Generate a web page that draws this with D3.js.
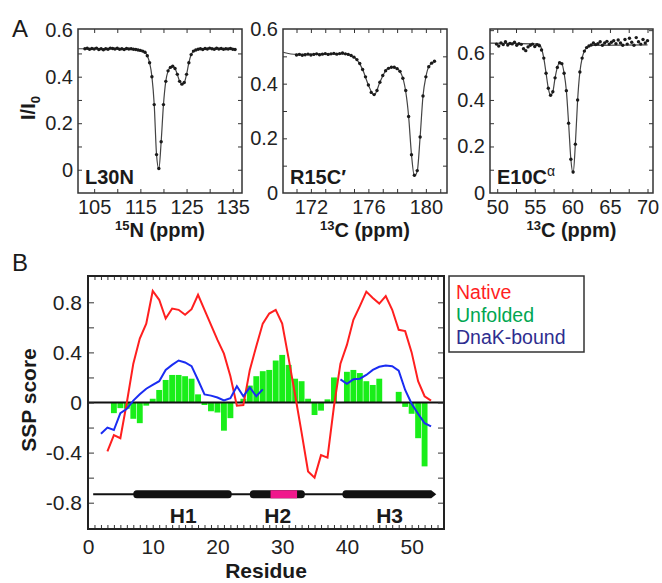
<!DOCTYPE html>
<html><head><meta charset="utf-8">
<script src="https://cdn.jsdelivr.net/npm/d3@7"></script>
<style>body{margin:0;background:#fff}svg{display:block}</style>
</head><body><svg id="c" width="662" height="583"></svg>
<script>
// ---------- Panel A data (CEST profiles) ----------
const p1X=[103,103.5,104,104.5,105,105.5,106,106.5,107,107.5,108,108.5,109,109.5,110,110.5,111,111.5,112,112.5,113,113.5,114,114.5,115,115.5,116,116.5,117,117.5,118,118.5,119,119.5,120,120.5,121,121.5,122,122.5,123,123.5,124,124.5,125,125.5,126,126.5,127,127.5,128,128.5,129,129.5,130,130.5,131,131.5,132,132.5,133,133.5,134,134.5,135,135.5];
const p1Y=[.520,.522,.518,.521,.519,.523,.517,.520,.516,.520,.518,.523,.521,.519,.522,.518,.520,.517,.521,.519,.520,.518,.517,.515,.513,.510,.505,.490,.460,.400,.280,.065,.005,.120,.280,.380,.425,.440,.445,.435,.410,.380,.368,.375,.410,.460,.495,.510,.515,.518,.520,.517,.521,.519,.523,.520,.518,.522,.519,.521,.518,.520,.519,.521,.518,.517];
const f1X=[101.5,114,115,116,116.5,117,117.5,118,118.5,119,119.5,120,120.5,121,121.5,122,122.5,123,123.5,124,124.5,125,125.5,126,126.5,127,128,135.5];
const f1Y=[.52,.519,.513,.505,.49,.46,.40,.28,.065,.003,.12,.28,.38,.425,.44,.445,.435,.41,.38,.368,.375,.41,.46,.495,.51,.515,.52,.52];

const p2X=[171.0,171.2,171.4,171.6,171.8,172.0,172.2,172.4,172.6,172.8,173.0,173.2,173.4,173.6,173.8,174.0,174.2,174.4,174.6,174.8,175.0,175.2,175.4,175.6,175.8,176.0,176.2,176.4,176.6,176.8,177.0,177.2,177.4,177.6,177.8,178.0,178.2,178.4,178.6,178.8,179.0,179.2,179.4,179.6,179.8,180.0,180.2,180.4,180.6];
const p2Y=[.505,.507,.504,.506,.508,.505,.507,.509,.506,.508,.510,.507,.509,.511,.508,.510,.512,.509,.507,.503,.497,.488,.474,.452,.425,.395,.368,.360,.375,.405,.430,.447,.456,.460,.460,.455,.445,.420,.375,.280,.140,.065,.082,.205,.355,.425,.462,.475,.482];
const f2X=[170.06,171,174.4,174.8,175.2,175.6,176,176.4,176.8,177.2,177.6,178,178.4,178.8,179,179.2,179.4,179.6,179.8,180,180.2,180.6];
const f2Y=[.515,.507,.509,.503,.488,.452,.395,.358,.405,.447,.46,.455,.42,.28,.14,.062,.08,.205,.355,.425,.462,.482];

const p3X=[49.9,50.2,50.5,50.8,51.1,51.4,51.7,52.0,52.3,52.6,52.9,53.2,53.5,53.8,54.1,54.4,54.7,55.0,55.3,55.6,55.9,56.2,56.5,56.8,57.1,57.4,57.7,58.0,58.3,58.6,58.9,59.2,59.5,59.8,60.1,60.4,60.7,61.0,61.3,61.6,61.9,62.2,62.5,62.8,63.1,63.4,63.7,64.0,64.3,64.6,64.9,65.2,65.5,65.8,66.1,66.4,66.7,67.0,67.3,67.6,67.9,68.2,68.5,68.8,69.1,69.4,69.7,70.0];
const p3Y=[.640,.632,.645,.638,.650,.636,.643,.641,.648,.635,.642,.639,.620,.612,.628,.635,.640,.630,.638,.633,.615,.580,.515,.450,.420,.435,.495,.540,.560,.556,.515,.440,.300,.145,.090,.210,.400,.520,.580,.610,.625,.632,.636,.645,.638,.642,.650,.635,.645,.652,.640,.648,.655,.642,.658,.645,.635,.660,.640,.665,.648,.635,.668,.650,.640,.660,.645,.655];
const f3X=[49.04,55.6,55.9,56.2,56.5,56.8,57.1,57.4,57.7,58.0,58.3,58.6,58.9,59.2,59.5,59.8,60.1,60.4,60.7,61.0,61.3,61.6,61.9,62.5,70.0];
const f3Y=[.644,.64,.62,.58,.515,.45,.42,.435,.495,.54,.56,.556,.515,.44,.30,.145,.085,.21,.40,.52,.58,.61,.625,.635,.637];

// tick labels
const a1XLab=[105,115,125,135], a1XMinor=[105,110,115,120,125,130,135];
const a2XLab=[172,176,180], a2XMinor=[171,172,173,174,175,176,177,178,179,180,181];
const a3XLab=[50,55,60,65,70], a3XMinor=[50,52.5,55,57.5,60,62.5,65,67.5,70];
const aYLab=[0,0.2,0.4,0.6];
const a1YMinor=[0,0.1,0.2,0.3,0.4,0.5], a2YMinor=[0.1,0.2,0.3,0.4,0.5], a3YMinor=[0.1,0.2,0.3,0.4,0.5,0.6,0.7];

// ---------- Panel B data (SSP scores) ----------
const nativeRes=[3,4,5,6,7,8,9,10,11,12,13,14,15,16,17,18,19,20,21,22,23,24,25,26,27,28,29,30,31,32,33,34,35,36,37,38,39,40,41,42,43,44,45,46,47,48,49,50,51,52,53];
const nativeSSP=[-0.39,-0.26,-0.285,0.0,0.31,0.51,0.63,0.89,0.82,0.67,0.75,0.74,0.70,0.745,0.86,0.74,0.62,0.50,0.39,0.21,-0.025,-0.02,0.26,0.45,0.63,0.71,0.74,0.63,0.35,0.06,-0.24,-0.55,-0.60,-0.42,-0.44,-0.03,0.31,0.46,0.66,0.77,0.885,0.835,0.79,0.85,0.74,0.58,0.57,0.40,0.17,0.05,0.015];
const dnakRes1=[2,3,4,5,6,7,8,9,10,11,12,13,14,15,16,17,18,19,20,21,22,23,24,25,26,27];
const dnakSSP1=[-0.25,-0.20,-0.22,-0.085,-0.05,0.015,0.065,0.11,0.14,0.17,0.26,0.30,0.335,0.32,0.29,0.18,0.065,0.055,0.04,0.016,0.035,0.13,0.05,0.12,0.05,0.105];
const dnakRes2=[39,40,41,42,43,44,45,46,47,48,49,50,51,52,53];
const dnakSSP2=[0.185,0.15,0.185,0.19,0.22,0.26,0.285,0.295,0.29,0.255,0.10,-0.01,-0.09,-0.165,-0.19];
const unfRes=[4,5,6,7,8,9,10,11,12,13,14,15,16,17,18,19,20,21,22,23,24,25,26,27,28,29,30,31,32,33,34,35,36,37,38,39,40,41,42,43,44,45,46,47,48,49,50,51,52];
const unfSSP=[-0.085,-0.045,-0.05,-0.13,-0.165,-0.025,0.03,0.10,0.18,0.22,0.22,0.21,0.19,0.065,-0.02,-0.07,-0.08,-0.225,-0.125,0,0.03,0.135,0.21,0.25,0.26,0.335,0.38,0.30,0.19,0.17,0.03,-0.10,-0.065,0.025,0.20,0,0.245,0.26,0.235,0.17,0.14,0.19,0,0,0.085,-0.035,-0.09,-0.285,-0.51];
const bXLab=[0,10,20,30,40,50];
const bXMinor=[1,2,3,4,5,6,7,8,9,10,11,12,13,14,15,16,17,18,19,20,21,22,23,24,25,26,27,28,29,30,31,32,33,34,35,36,37,38,39,40,41,42,43,44,45,46,47,48,49,50,51,52,53,54];
const bYLab=[-0.8,-0.4,0,0.4,0.8];
const bYMinor=[-0.8,-0.6,-0.4,-0.2,0,0.2,0.4,0.6,0.8];
// secondary structure (residue ranges)
const helixNames=["H1","H2","H3"];
const helixStart=[7.0,25.0,39.3];
const helixEnd=[22.2,33.5,53.8];
const helixLabelPos=[14.7,29.3,46.6];
const pinkRange=[28.2,32.3];
const topoLine=[0.8,53.5];
const topoY=-0.733;
const legendNames=["Native","Unfolded","DnaK-bound"];
const legendColors=["#ff1f1f","#00a651","#2e2d8f"];

// ---------- drawing ----------
const FONT='"Liberation Sans", Arial, Helvetica, sans-serif';
const svg=d3.select("#c");
svg.append("rect").attr("width",662).attr("height",583).attr("fill","#fff");

function styleAxis(g,fs){
  g.selectAll(".domain").remove();
  g.selectAll(".tick line").attr("stroke","#333").attr("stroke-width",1);
  g.selectAll(".tick text").attr("font-size",fs).attr("font-family",FONT).attr("fill","#222");
}
function minorTicks(g,x,y,xm,ym,l,r,t,b,len){
  const a=[];
  a.push(g.append("g").attr("transform",`translate(0,${b})`).call(d3.axisBottom(x).tickValues(xm).tickSize(-len).tickFormat("")));
  a.push(g.append("g").attr("transform",`translate(0,${t})`).call(d3.axisTop(x).tickValues(xm).tickSize(-len).tickFormat("")));
  a.push(g.append("g").attr("transform",`translate(${l},0)`).call(d3.axisLeft(y).tickValues(ym).tickSize(-len).tickFormat("")));
  a.push(g.append("g").attr("transform",`translate(${r},0)`).call(d3.axisRight(y).tickValues(ym).tickSize(-len).tickFormat("")));
  a.forEach(s=>styleAxis(s,10));
}

function spectrum(o){
  const g=svg.append("g");
  const x=d3.scaleLinear().domain(o.xd).range([o.l,o.r]);
  const y=d3.scaleLinear().domain(o.yd).range([o.b,o.t]);
  minorTicks(g,x,y,o.xMinor,o.yMinor,o.l,o.r,o.t,o.b,4);
  const xa=g.append("g").attr("transform",`translate(0,${o.b})`).call(d3.axisBottom(x).tickValues(o.xLab).tickSize(0).tickPadding(7));
  const ya=g.append("g").attr("transform",`translate(${o.l},0)`).call(d3.axisLeft(y).tickValues(aYLab).tickSize(0).tickPadding(5).tickFormat(d=>String(d)));
  styleAxis(xa,20); styleAxis(ya,20);
  g.append("rect").attr("x",o.l).attr("y",o.t).attr("width",o.r-o.l).attr("height",o.b-o.t)
    .attr("fill","none").attr("stroke","#333").attr("stroke-width",1.5);
  const line=d3.line().x(d=>x(d[0])).y(d=>y(d[1])).curve(d3.curveMonotoneX);
  g.append("path").datum(d3.zip(o.fx,o.fy)).attr("d",line).attr("fill","none").attr("stroke","#444").attr("stroke-width",1.2);
  g.selectAll("circle.pt").data(d3.zip(o.px,o.py)).join("circle").attr("class","pt")
    .attr("cx",d=>x(d[0])).attr("cy",d=>y(d[1])).attr("r",1.7).attr("fill","#1a1a1a");
  // name
  const nt=g.append("text").attr("x",o.l+7).attr("y",o.b-9).attr("font-family",FONT).attr("font-size",20).attr("font-weight","bold").attr("fill","#1a1a1a");
  nt.append("tspan").text(o.name);
  if(o.sup) nt.append("tspan").attr("dy",-8).attr("font-size",14).attr("font-weight","normal").text(o.sup);
  // x title
  const tt=g.append("text").attr("x",(o.l+o.r)/2).attr("y",237).attr("text-anchor","middle").attr("font-family",FONT).attr("font-weight","bold").attr("font-size",20).attr("fill","#1a1a1a");
  tt.append("tspan").attr("font-size",13).attr("dy",-7).text(o.iso);
  tt.append("tspan").attr("dy",7).text(o.nuc+" (ppm)");
}

spectrum({l:78,r:242,t:29,b:193,xd:[101.5,137.0],yd:[-0.1,0.605],xLab:a1XLab,xMinor:a1XMinor,yMinor:a1YMinor,
  px:p1X,py:p1Y,fx:f1X,fy:f1Y,name:"L30N",iso:"15",nuc:"N"});
spectrum({l:283,r:447,t:29,b:193,xd:[170.06,181.47],yd:[0,0.6],xLab:a2XLab,xMinor:a2XMinor,yMinor:a2YMinor,
  px:p2X,py:p2Y,fx:f2X,fy:f2Y,name:"R15C\u2032",iso:"13",nuc:"C"});
spectrum({l:490,r:653,t:29,b:193,xd:[49.04,70.73],yd:[0,0.705],xLab:a3XLab,xMinor:a3XMinor,yMinor:a3YMinor,
  px:p3X,py:p3Y,fx:f3X,fy:f3Y,name:"E10C",sup:"\u03b1",iso:"13",nuc:"C"});

// I/I0
const yl=svg.append("text").attr("transform","translate(35,108) rotate(-90)").attr("text-anchor","middle")
  .attr("font-family",FONT).attr("font-weight","bold").attr("font-size",20).attr("fill","#1a1a1a");
yl.append("tspan").text("I/I");
yl.append("tspan").attr("font-size",13).attr("dy",5).text("0");

svg.append("text").attr("x",12).attr("y",37).attr("font-family",FONT).attr("font-size",24).attr("fill","#1a1a1a").text("A");
svg.append("text").attr("x",12).attr("y",271).attr("font-family",FONT).attr("font-size",24).attr("fill","#1a1a1a").text("B");

// ---------- Panel B ----------
const BL=88,BR=444,BT=276,BB=529;
const bx=d3.scaleLinear().domain([0,55]).range([BL,BR]);
const by=d3.scaleLinear().domain([-1.01,1.01]).range([BB,BT]);
const gb=svg.append("g");
const bw=bx(1)-bx(0);
gb.selectAll("rect.bar").data(d3.zip(unfRes,unfSSP)).join("rect").attr("class","bar")
  .attr("x",d=>bx(d[0])-bw/2+0.3).attr("width",bw-0.6)
  .attr("y",d=>by(Math.max(d[1],0))).attr("height",d=>Math.abs(by(d[1])-by(0)))
  .attr("fill","#19ee19");

// topology
gb.append("line").attr("x1",bx(topoLine[0])).attr("x2",bx(topoLine[1])).attr("y1",by(topoY)).attr("y2",by(topoY))
  .attr("stroke","#111").attr("stroke-width",2);
helixStart.forEach((s,i)=>{
  const e=helixEnd[i], yy=by(topoY), h=8;
  if(i<2){
    gb.append("rect").attr("x",bx(s)).attr("y",yy-h/2).attr("width",bx(e)-bx(s)).attr("height",h).attr("rx",3.5).attr("fill","#111");
  } else {
    const x0=bx(s), x1=bx(e);
    gb.append("path").attr("d",`M${x0+3.5},${yy-h/2} L${x1-5},${yy-h/2} L${x1},${yy} L${x1-5},${yy+h/2} L${x0+3.5},${yy+h/2} A3.5,4 0 0 1 ${x0+3.5},${yy-h/2} Z`).attr("fill","#111");
  }
  gb.append("text").attr("x",bx(helixLabelPos[i])).attr("y",523).attr("text-anchor","middle")
    .attr("font-family",FONT).attr("font-weight","bold").attr("font-size",21).attr("fill","#1a1a1a").text(helixNames[i]);
});
gb.append("rect").attr("x",bx(pinkRange[0])).attr("y",by(topoY)-4).attr("width",bx(pinkRange[1])-bx(pinkRange[0])).attr("height",8).attr("fill","#f0188c");

// zero line
gb.append("line").attr("x1",BL).attr("x2",BR).attr("y1",by(0)).attr("y2",by(0)).attr("stroke","#111").attr("stroke-width",2);

const bline=d3.line().x(d=>bx(d[0])).y(d=>by(d[1]));
gb.append("path").datum(d3.zip(nativeRes,nativeSSP)).attr("d",bline).attr("fill","none").attr("stroke","#ff1f1f").attr("stroke-width",2);
gb.append("path").datum(d3.zip(dnakRes1,dnakSSP1)).attr("d",bline).attr("fill","none").attr("stroke","#1a2cf2").attr("stroke-width",2);
gb.append("path").datum(d3.zip(dnakRes2,dnakSSP2)).attr("d",bline).attr("fill","none").attr("stroke","#1a2cf2").attr("stroke-width",2);

// axes
const gt=svg.append("g");
(function(){
  const a=[];
  a.push(gt.append("g").attr("transform",`translate(0,${BB})`).call(d3.axisBottom(bx).tickValues(bXMinor).tickSize(-4).tickFormat("")));
  a.push(gt.append("g").attr("transform",`translate(0,${BT})`).call(d3.axisTop(bx).tickValues(bXMinor).tickSize(-4).tickFormat("")));
  a.push(gt.append("g").attr("transform",`translate(${BL},0)`).call(d3.axisLeft(by).tickValues(bYMinor).tickSize(-6).tickFormat("")));
  a.push(gt.append("g").attr("transform",`translate(${BR},0)`).call(d3.axisRight(by).tickValues(bYMinor).tickSize(-6).tickFormat("")));
  a.forEach(s=>styleAxis(s,10));
  const xa=gt.append("g").attr("transform",`translate(0,${BB})`).call(d3.axisBottom(bx).tickValues(bXLab).tickSize(0).tickPadding(10));
  const ya=gt.append("g").attr("transform",`translate(${BL},0)`).call(d3.axisLeft(by).tickValues(bYLab).tickSize(0).tickPadding(6).tickFormat(d=>String(d)));
  styleAxis(xa,21); styleAxis(ya,21);
})();
gt.append("rect").attr("x",BL).attr("y",BT).attr("width",BR-BL).attr("height",BB-BT).attr("fill","none").attr("stroke","#222").attr("stroke-width",2);

svg.append("text").attr("transform","translate(36,400) rotate(-90)").attr("text-anchor","middle")
  .attr("font-family",FONT).attr("font-weight","bold").attr("font-size",21).attr("fill","#1a1a1a").text("SSP score");
svg.append("text").attr("x",(BL+BR)/2).attr("y",578).attr("text-anchor","middle")
  .attr("font-family",FONT).attr("font-weight","bold").attr("font-size",21).attr("fill","#1a1a1a").text("Residue");

// legend
svg.append("rect").attr("x",449).attr("y",276).attr("width",135).attr("height",76).attr("fill","#fff").attr("stroke","#333").attr("stroke-width",1.5);
const lgY=[299,321.5,344];
legendNames.forEach((n,i)=>{
  svg.append("text").attr("x",456).attr("y",lgY[i]).attr("font-family",FONT).attr("font-size",19.5).attr("fill",legendColors[i]).text(n);
});
</script></body></html>
